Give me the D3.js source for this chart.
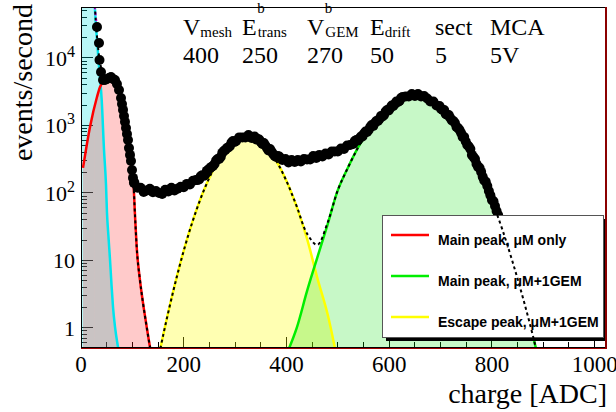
<!DOCTYPE html>
<html>
<head>
<meta charset="utf-8">
<script src="https://cdn.jsdelivr.net/npm/d3@7"></script>
<style>
  html, body { margin: 0; padding: 0; background: #fff; }
  svg { display: block; }
</style>
</head>
<body>
<svg id="chart" width="616" height="412"></svg>
<script>
// ---- data -----------------------------------------------------------
const xMajorTicks = [0, 200, 400, 600, 800, 1000];
const yMajorTicks = [1, 10, 100, 1000, 10000];
const yTickLabels = [["1", ""], ["10", ""], ["10", "2"], ["10", "3"], ["10", "4"]];

// [charge (ADC), events/second]
const noisePeak = [
  [26.3, 72300], [27.3, 51400], [33.7, 10350], [35.6, 6640], [40.3, 2390],
  [44.8, 434], [48.7, 131], [50.6, 50.6], [53.5, 22.3], [56.5, 10.2],
  [59.4, 4.34], [62.3, 2.05], [66.2, 1.03], [72.0, 0.52], [75.9, 0.34]
];
const pedestalTail = [[25.5, 72000], [28.0, 47000], [31.0, 30800]];

const mainPeakMicro = [
  [3.9, 235], [17.5, 950], [31.1, 2640], [37.0, 3720], [46.7, 4720],
  [56.5, 5060], [64.2, 4890], [70.1, 4410], [75.9, 3130], [81.8, 1700],
  [87.6, 918], [91.5, 610], [95.4, 366], [99.3, 219], [101.8, 156],
  [105.1, 47], [108.4, 15.9], [114.8, 5.1], [120.7, 2.34], [127.9, 1.03],
  [134.3, 0.52], [138.2, 0.36]
];

const escapePeak = [
  [150, 0.33], [160, 0.78], [180, 3.6], [200, 13.9], [220, 43.7], [240, 113],
  [260, 239], [280, 415], [300, 590], [320, 690], [330, 695], [340, 650],
  [360, 490], [380, 300], [400, 150], [420, 62], [440, 21], [460, 5.5],
  [480, 1.6], [500, 0.3]
];

const mainPeakGem = [
  [400, 0.4], [420, 1.0], [440, 3.5], [460, 11], [480, 34], [500, 110],
  [520, 240], [540, 480], [560, 850], [580, 1350], [600, 1900], [620, 2400],
  [645, 2750], [660, 2658], [680, 2291], [700, 1754], [720, 1191], [740, 718],
  [760, 385], [780, 183], [800, 77], [820, 29], [840, 9.6], [860, 2.85],
  [880, 0.75], [900, 0.17]
];

// total fit, low-charge part (noise + main peak) and high-charge part (escape + GEM peak)
const totalFitLow = [
  [26.3, 74100], [27.3, 53400], [33.7, 13250], [35.6, 10040], [40.3, 6600],
  [44.8, 5030], [48.7, 4980], [56.5, 5070], [64.2, 4890], [70.1, 4410],
  [75.9, 3130], [81.8, 1700], [87.6, 918], [91.5, 610], [95.4, 366],
  [99.3, 219], [101.8, 156], [105.1, 47], [108.4, 15.9], [114.8, 5.1],
  [120.7, 2.34], [127.9, 1.03], [134.3, 0.52], [138.2, 0.36]
];
const totalFitHigh = [
  [150, 0.33], [160, 0.78], [180, 3.6], [200, 13.9], [220, 43.7], [240, 113],
  [260, 239], [280, 415], [300, 590], [320, 690], [330, 695], [340, 650],
  [360, 490], [380, 300], [400, 150], [420, 63], [440, 25], [460, 17],
  [480, 36], [500, 110], [520, 240], [540, 480], [560, 850], [580, 1350],
  [600, 1900], [620, 2400], [645, 2750], [660, 2658], [680, 2291], [700, 1754],
  [720, 1191], [740, 718], [760, 385], [780, 183], [800, 77], [820, 29],
  [840, 9.6], [860, 2.85], [880, 0.75], [900, 0.17]
];

const measured = [
  [31.1, 28800], [35.0, 16700], [36.0, 9340], [38.9, 6210], [42.8, 4720],
  [46.7, 4720], [50.6, 4890], [54.5, 5060], [58.4, 5230], [62.3, 4890],
  [66.2, 4720], [70.0, 4120], [74.0, 3360], [77.9, 2550], [79.8, 2080],
  [81.8, 1700], [83.7, 1380], [85.6, 1130], [87.6, 918], [89.5, 748],
  [91.5, 610], [93.4, 464], [95.4, 366], [97.3, 298], [99.3, 219],
  [101.2, 167], [103.1, 141],
  [104, 141], [110, 119], [116, 119], [122, 103.5], [128, 109], [134, 115],
  [140, 102], [146, 107], [152, 100], [158, 96.6], [164, 111], [170, 105],
  [176, 119], [182, 109], [188, 115], [194, 123], [200, 121], [206, 136],
  [212, 133], [218, 151], [224, 156], [227, 156], [230, 158], [233, 176],
  [236, 182], [239, 179], [242, 188], [245, 212], [248, 223], [251, 231],
  [254, 243], [257, 251], [260, 269], [263, 303], [266, 319], [269, 319],
  [272, 341], [275, 392], [278, 419], [281, 434], [284, 464], [287, 472],
  [290, 497], [293, 560], [296, 589], [299, 570], [302, 589], [308, 665],
  [314, 665], [320, 665], [326, 723], [332, 653], [338, 687], [341, 620],
  [344, 631], [347, 620], [350, 570], [353, 532], [356, 551], [359, 505],
  [362, 464], [365, 427], [368, 449], [371, 412], [374, 378], [377, 353],
  [380, 341], [383, 353], [386, 347], [392, 308], [398, 319], [404, 283],
  [410, 308], [416, 288], [422, 308], [428, 293], [434, 319], [440, 314],
  [446, 314], [452, 353], [458, 330], [464, 366], [470, 347], [476, 385],
  [482, 372], [488, 412], [494, 412], [500, 412], [506, 456], [512, 449],
  [518, 505], [524, 514], [530, 532], [533, 589], [536, 610], [539, 600],
  [542, 642], [545, 687], [548, 687], [551, 760], [554, 816], [557, 802],
  [560, 857], [563, 951], [566, 1016], [569, 984], [572, 1089], [575, 1167],
  [578, 1167], [581, 1247], [584, 1384], [587, 1360], [590, 1432], [593, 1613],
  [596, 1698], [599, 1670], [602, 1816], [605, 1980], [608, 1945], [611, 2084],
  [614, 2268], [617, 2228], [620, 2307], [623, 2553], [626, 2643], [632, 2690],
  [638, 2690], [644, 2930], [650, 2735], [656, 2930], [662, 2690], [668, 2735],
  [674, 2510], [680, 2268], [686, 2268], [692, 1980], [698, 1945], [701, 1754],
  [704, 1698], [707, 1698], [710, 1479], [713, 1432], [716, 1432], [719, 1291],
  [722, 1186], [725, 1167], [728, 1089], [731, 951], [734, 918], [737, 857],
  [740, 774], [743, 676], [746, 676], [749, 580], [752, 514], [755, 489],
  [758, 449], [761, 366], [764, 341], [767, 319], [770, 269], [773, 243],
  [776, 234], [779, 205], [782, 173], [785, 153], [788, 146], [791, 127],
  [794, 107], [797, 92], [800, 78.7], [803, 75], [806, 64.1], [809, 54],
  [812, 47.2], [815, 40], [818, 37.2], [824, 28.3], [830, 22], [836, 17]
];

// run conditions
const headerNames = [
  { main: "V", sub: "mesh", sup: "" },
  { main: "E", sub: "trans", sup: "b" },
  { main: "V", sub: "GEM", sup: "b" },
  { main: "E", sub: "drift", sup: "" },
  { main: "sect", sub: "", sup: "" },
  { main: "MCA", sub: "", sup: "" }
];
const headerValues = ["400", "250", "270", "50", "5", "5V"];
const headerX = [183, 242, 307, 370, 435, 490];

const legendLabels = ["Main peak, \u03bcM only", "Main peak, \u03bcM+1GEM", "Escape peak, \u03bcM+1GEM"];
const legendColors = ["#ff0000", "#00ee00", "#ffff00"];

// ---- layout ---------------------------------------------------------
const svg = d3.select("#chart");
const pL = 81, pR = 607, pT = 7, pB = 347;
const x = d3.scaleLinear().domain([0, 1024]).range([pL, pR]);
const y = d3.scaleLog().domain([0.52, 57000]).range([pB, pT]);
const serif = "'Liberation Serif', 'Times New Roman', serif";
const sans = "'Liberation Sans', Arial, Helvetica, sans-serif";

const defs = svg.append("defs");
defs.append("clipPath").attr("id", "plotClip")
  .append("rect").attr("x", pL).attr("y", pT).attr("width", pR - pL).attr("height", pB - pT);

// ---- axis ticks (drawn under the fills) ------------------------------
const ticks = svg.append("g").attr("stroke", "#000").attr("stroke-width", 1).attr("shape-rendering", "crispEdges");
for (let v = 0; v <= 1024; v += 50) {
  const major = v % 200 === 0;
  ticks.append("line").attr("x1", x(v)).attr("x2", x(v))
    .attr("y1", pB).attr("y2", pB - (major ? 10 : 5));
}
const [yLo, yHi] = y.domain();
for (let e = -1; e <= 4; e++) {
  for (let m = 1; m <= 9; m++) {
    const v = m * Math.pow(10, e);
    if (v < yLo || v > yHi) continue;
    ticks.append("line").attr("x1", pL).attr("x2", pL + (m === 1 ? 12 : 6))
      .attr("y1", y(v)).attr("y2", y(v));
  }
}

// ---- fills ----------------------------------------------------------
const plot = svg.append("g").attr("clip-path", "url(#plotClip)");
const areaMono = d3.area().x(d => x(d[0])).y0(pB).y1(d => y(d[1])).curve(d3.curveMonotoneX);
const areaSmooth = d3.area().x(d => x(d[0])).y0(pB).y1(d => y(d[1])).curve(d3.curveCatmullRom.alpha(0.5));
const lineMono = d3.line().x(d => x(d[0])).y(d => y(d[1])).curve(d3.curveMonotoneX);
const lineSmooth = d3.line().x(d => x(d[0])).y(d => y(d[1])).curve(d3.curveCatmullRom.alpha(0.5));

plot.append("rect").attr("x", x(0)).attr("y", pT).attr("width", x(noisePeak[0][0]) - x(0)).attr("height", pB - pT)
  .attr("fill", "#00e0e0").attr("fill-opacity", 0.28);
plot.append("path").datum(noisePeak).attr("d", areaMono).attr("fill", "#00e0e0").attr("fill-opacity", 0.28);
plot.append("path").datum(mainPeakMicro).attr("d", areaMono).attr("fill", "#ff2020").attr("fill-opacity", 0.24);
plot.append("path").datum(escapePeak).attr("d", areaSmooth).attr("fill", "#ffff00").attr("fill-opacity", 0.3);
plot.append("path").datum(mainPeakGem).attr("d", areaSmooth).attr("fill", "#00e000").attr("fill-opacity", 0.22);

// ---- fit components -------------------------------------------------
plot.append("path").datum(noisePeak).attr("d", lineMono).attr("fill", "none").attr("stroke", "#00e5ee").attr("stroke-width", 2.5);
plot.append("path").datum(mainPeakMicro).attr("d", lineMono).attr("fill", "none").attr("stroke", "#ff0000").attr("stroke-width", 2.5);
plot.append("path").datum(escapePeak).attr("d", lineSmooth).attr("fill", "none").attr("stroke", "#ffff00").attr("stroke-width", 2.5);
plot.append("path").datum(mainPeakGem).attr("d", lineSmooth).attr("fill", "none").attr("stroke", "#00ee00").attr("stroke-width", 2.5);
plot.append("path").datum(pedestalTail).attr("d", lineMono).attr("fill", "none").attr("stroke", "#ff00ff")
  .attr("stroke-width", 2).attr("stroke-dasharray", "3,3");

// ---- measured spectrum ----------------------------------------------
plot.append("g").selectAll("circle").data(measured).join("circle")
  .attr("cx", d => x(d[0])).attr("cy", d => y(d[1])).attr("r", 5).attr("fill", "#000");

// ---- legend ---------------------------------------------------------
const lg = svg.append("g");
const lx = 382, ly = 215, lw = 221, lh = 122;
lg.append("rect").attr("x", lx + 4).attr("y", ly + 4).attr("width", lw).attr("height", lh).attr("fill", "#000");
lg.append("rect").attr("x", lx + 0.5).attr("y", ly + 0.5).attr("width", lw).attr("height", lh)
  .attr("fill", "#fff").attr("stroke", "#555").attr("stroke-width", 1);
legendLabels.forEach((t, i) => {
  const ry = 235 + i * 41;
  lg.append("line").attr("x1", 391).attr("x2", 429).attr("y1", ry).attr("y2", ry)
    .attr("stroke", legendColors[i]).attr("stroke-width", 2.5);
  lg.append("text").attr("x", 438).attr("y", ry + 9.5).attr("font-family", sans).attr("font-weight", "bold")
    .attr("font-size", 14).attr("fill", "#000").text(t);
});

// ---- total fit (dotted, on top) -------------------------------------
const fitLayer = svg.append("g").attr("clip-path", "url(#plotClip)");
fitLayer.append("path").datum(totalFitLow).attr("d", lineMono).attr("fill", "none").attr("stroke", "#000")
  .attr("stroke-width", 2).attr("stroke-dasharray", "3,3");
fitLayer.append("path").datum(totalFitHigh).attr("d", lineSmooth).attr("fill", "none").attr("stroke", "#000")
  .attr("stroke-width", 2).attr("stroke-dasharray", "3,3");

// ---- frame ----------------------------------------------------------
const frame = svg.append("g").attr("shape-rendering", "crispEdges");
frame.append("line").attr("x1", pL).attr("x2", pR).attr("y1", pB + 1).attr("y2", pB + 1).attr("stroke", "#a00000");
frame.append("line").attr("x1", pL).attr("x2", pR).attr("y1", pB).attr("y2", pB).attr("stroke", "#000");
frame.append("line").attr("x1", pL).attr("x2", pR).attr("y1", pT).attr("y2", pT).attr("stroke", "#000");
frame.append("line").attr("x1", pL).attr("x2", pL).attr("y1", pT).attr("y2", pB).attr("stroke", "#000");
frame.append("line").attr("x1", pR - 1).attr("x2", pR - 1).attr("y1", pT).attr("y2", pB + 1)
  .attr("stroke", "#8b0000").attr("stroke-width", 2);

// ---- axis labels ----------------------------------------------------
const xl = svg.append("g").attr("font-family", serif).attr("font-size", 23).attr("fill", "#000");
xMajorTicks.forEach(v => {
  xl.append("text").attr("x", x(v)).attr("y", 372).attr("text-anchor", "middle").text(v);
});
const yl = svg.append("g").attr("font-family", serif).attr("fill", "#000");
yMajorTicks.forEach((v, i) => {
  const [base, exp] = yTickLabels[i];
  const t = yl.append("text").attr("x", 75).attr("y", y(v) + 8).attr("text-anchor", "end").attr("font-size", 22);
  t.append("tspan").text(base);
  if (exp) t.append("tspan").attr("font-size", 16).attr("dy", -9).text(exp);
});

svg.append("text").attr("x", 607).attr("y", 403).attr("text-anchor", "end")
  .attr("font-family", serif).attr("font-size", 28).text("charge [ADC]");
svg.append("text").attr("transform", "translate(32,4) rotate(-90)").attr("text-anchor", "end")
  .attr("font-family", serif).attr("font-size", 28).text("events/second");

// ---- run conditions -------------------------------------------------
const hd = svg.append("g").attr("font-family", serif).attr("fill", "#000");
headerNames.forEach((h, i) => {
  const m = hd.append("text").attr("x", headerX[i]).attr("y", 35).attr("font-size", 24).text(h.main);
  const w = m.node().getComputedTextLength();
  if (h.sup) {
    hd.append("text").attr("x", headerX[i] + w + 0.5).attr("y", 13).attr("font-size", 15).text(h.sup);
  }
  if (h.sub) {
    hd.append("text").attr("x", headerX[i] + w + (h.sup ? 1 : 0)).attr("y", 37).attr("font-size", 15).text(h.sub);
  }
  hd.append("text").attr("x", headerX[i]).attr("y", 63).attr("font-size", 24).text(headerValues[i]);
});
</script>
</body>
</html>
